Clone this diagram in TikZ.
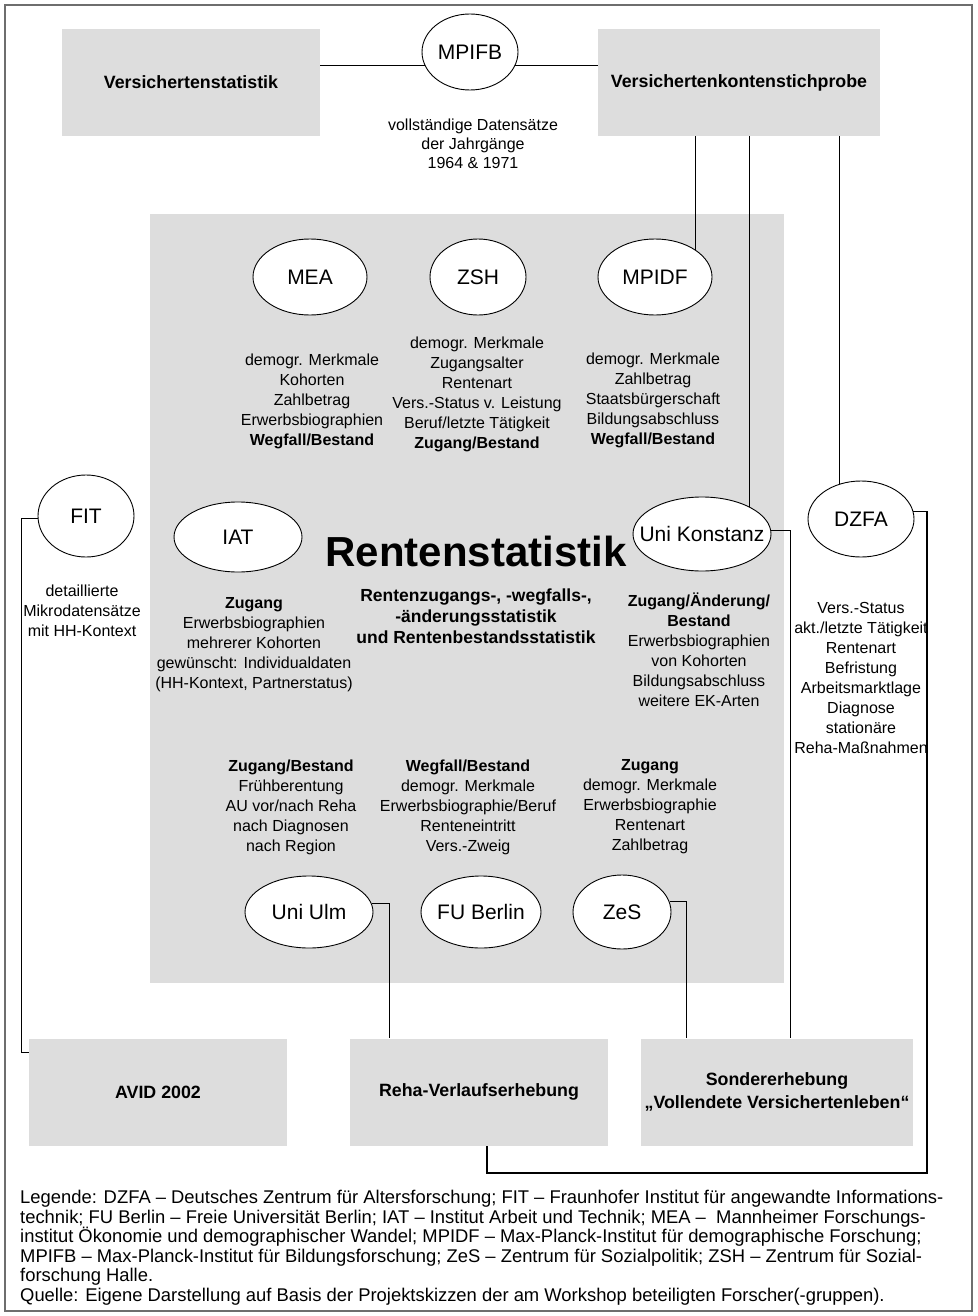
\documentclass[tikz,border=0pt]{standalone}
\usepackage{fontspec}
\setmainfont{Liberation Sans}
\usetikzlibrary{shapes.geometric}
\definecolor{boxgray}{RGB}{221,221,221}
\definecolor{framegray}{RGB}{110,110,110}

\begin{document}
\begin{tikzpicture}
[x=1pt,y=-1pt,
  boxDecorate/.style={shape=rectangle,fill=boxgray,inner sep=0pt,align=center,
    font=\fontsize{17.8}{23}\selectfont\bfseries},
  ellDecorate/.style={shape=ellipse,draw,fill=white,inner sep=0pt,line width=0.9pt,
    font=\fontsize{21}{24}\selectfont},
  textDecorate/.style={align=center,inner sep=0pt,font=\fontsize{16}{20}\selectfont},
  lineDecorate/.style={-,line width=1.1pt}]
\useasboundingbox (0,0) rectangle (977,1316);
\draw[framegray,line width=1.5pt] (5,5) rectangle (972,1311);
%% grey panel and boxes
\node (panel) at (467,598.5) [boxDecorate,minimum width=634pt,minimum height=769pt] {};
\foreach \nodename/\x/\y/\w/\txt in {
  vst/191/82.5/258/Versichertenstatistik,
  vks/739/82.5/282/Versichertenkontenstichprobe,
  avid/158/1092/258/AVID 2002,
  reha/479/1092/258/Reha-Verlaufserhebung,
  sonder/777/1092/272/{Sondererhebung\\„Vollendete Versichertenleben“}}
{
  \node (\nodename) at (\x,\y) [boxDecorate,minimum width=\w pt,minimum height=107pt] {\txt};
}
%% ellipses
\foreach \nodename/\x/\y/\w/\h/\txt in {
  mpifb/470/52/96/76/MPIFB,     mea/310/277/114/76/MEA,
  zsh/478/277/96/76/ZSH,        mpidf/655/277/114/76/MPIDF,
  fit/86/516/96/82/FIT,         iat/238/537/128/70/IAT,
  uk/702/534/138/74/Uni Konstanz, dzfa/861/519/106/76/DZFA,
  ulm/309/912/128/72/Uni Ulm,   fub/481/912/120/72/FU Berlin,
  zes/622/912/98/74/ZeS}
{
  \node (\nodename) at (\x,\y) [ellDecorate,minimum width=\w pt,minimum height=\h pt] {\makebox[0pt]{\txt}};
}
%% connectors
\draw[lineDecorate] (vst.east |- mpifb.197) -- (mpifb.197);
\draw[lineDecorate] (mpifb.-17) -- (vks.west |- mpifb.-17);
\draw[lineDecorate] (vks.south -| mpidf.34) -- (mpidf.34);
\draw[lineDecorate] (vks.south -| uk.30) -- (uk.30);
\draw[lineDecorate] (vks.south -| dzfa.122) -- (dzfa.122);
\draw[lineDecorate] (fit.183) -| ([xshift=-7pt,yshift=-14pt]avid.north west) -- ([yshift=-14pt]avid.north west);
\draw[lineDecorate] (ulm.8) -| ([xshift=40pt]reha.north west);
\draw[lineDecorate] (zes.12) -| ([xshift=46pt]sonder.north west);
\draw[lineDecorate] (uk.3) -| ([xshift=150pt]sonder.north west);
\coordinate (dzfaturn) at (927,1173);
\draw[lineDecorate] (dzfa.8) -| (dzfaturn) -| ([xshift=8pt]reha.south);
%% texts
\node (mpifbtext) at (473,144) [textDecorate,font=\fontsize{16}{19}\selectfont] {vollständige Datensätze\\der Jahrgänge\\1964 \& 1971};
\node (meatext) at (312,401) [textDecorate] {demogr. Merkmale\\Kohorten\\Zahlbetrag\\Erwerbsbiographien\\\textbf{Wegfall/Bestand}};
\node (zshtext) at (477,394) [textDecorate] {demogr. Merkmale\\Zugangsalter\\Rentenart\\Vers.-Status v. Leistung\\Beruf/letzte Tätigkeit\\\textbf{Zugang/Bestand}};
\node (mpidftext) at (653,400) [textDecorate] {demogr. Merkmale\\Zahlbetrag\\Staatsbürgerschaft\\Bildungsabschluss\\\textbf{Wegfall/Bestand}};
\node (fittext) at (82,611) [textDecorate] {detaillierte\\Mikrodatensätze\\mit HH-Kontext};
\node (iattext) at (254,645) [textDecorate] {\textbf{Zugang}\\Erwerbsbiographien\\mehrerer Kohorten\\gewünscht: Individualdaten\\(HH-Kontext, Partnerstatus)};
\node (title) at (476,566) [anchor=base,inner sep=0pt,font=\fontsize{42}{48}\selectfont\bfseries] {Rentenstatistik};
\node (subtitle) at (476,616) [textDecorate,font=\fontsize{17.5}{21}\selectfont\bfseries] {Rentenzugangs-, -wegfalls-,\\-änderungsstatistik\\und Rentenbestandsstatistik};
\node (uktext) at (699,650) [textDecorate] {\textbf{Zugang/Änderung/}\\\textbf{Bestand}\\Erwerbsbiographien\\von Kohorten\\Bildungsabschluss\\weitere EK-Arten};
\node (dzfatext) at (861,678) [textDecorate] {Vers.-Status\\akt./letzte Tätigkeit\\Rentenart\\Befristung\\Arbeitsmarktlage\\Diagnose\\stationäre\\Reha-Maßnahmen};
\node (ulmtext) at (291,807) [textDecorate] {\textbf{Zugang/Bestand}\\Frühberentung\\AU vor/nach Reha\\nach Diagnosen\\nach Region};
\node (futext) at (468,807) [textDecorate] {\textbf{Wegfall/Bestand}\\demogr. Merkmale\\Erwerbsbiographie/Beruf\\Renteneintritt\\Vers.-Zweig};
\node (zestext) at (650,807) [textDecorate] {\textbf{Zugang}\\demogr. Merkmale\\Erwerbsbiographie\\Rentenart\\Zahlbetrag};
%% legend
\node (legend) at (20,1190) [anchor=north west,align=left,inner sep=0pt,font=\fontsize{18.4}{19.6}\selectfont]
{Legende: DZFA – Deutsches Zentrum für Altersforschung; FIT – Fraunhofer Institut für angewandte Informations-\\
technik; FU Berlin – Freie Universität Berlin; IAT – Institut Arbeit und Technik; MEA –\ \ Mannheimer Forschungs-\\
institut Ökonomie und demographischer Wandel; MPIDF – Max-Planck-Institut für demographische Forschung;\\
MPIFB – Max-Planck-Institut für Bildungsforschung; ZeS – Zentrum für Sozialpolitik; ZSH – Zentrum für Sozial-\\
forschung Halle.\\
Quelle: Eigene Darstellung auf Basis der Projektskizzen der am Workshop beteiligten Forscher(-gruppen).};
\end{tikzpicture}
\end{document}
